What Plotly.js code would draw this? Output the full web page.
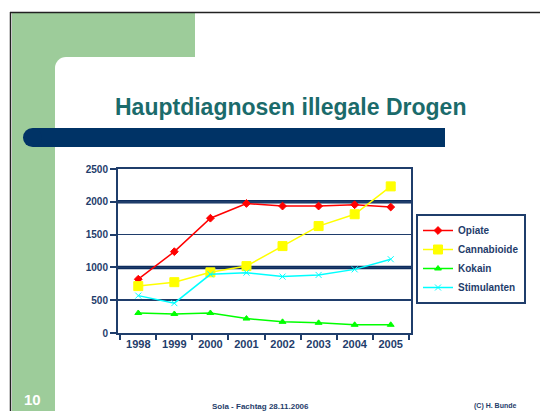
<!DOCTYPE html>
<html>
<head>
<meta charset="utf-8">
<script src="https://cdn.plot.ly/plotly-3.0.1.min.js"></script>
<style>html,body{margin:0;padding:0;background:#fff;}#chart{width:540px;height:411px;}</style>
</head>
<body>
<div id="chart"></div>
<script>
// ---- data ----
const years = ["1998", "1999", "2000", "2001", "2002", "2003", "2004", "2005"];
const opiate = [820, 1240, 1750, 1975, 1935, 1935, 1955, 1920];
const cannabioide = [715, 775, 925, 1020, 1325, 1630, 1810, 2235];
const kokain = [305, 290, 305, 220, 170, 155, 125, 125];
const stimulanten = [570, 455, 895, 920, 860, 885, 970, 1125];
const seriesNames = ["Opiate", "Cannabioide", "Kokain", "Stimulanten"];
const yTicks = [0, 500, 1000, 1500, 2000, 2500];
const thickGrid = [1000, 2000];

// ---- layout helpers (pixel -> paper) ----
const W = 540, H = 411;
const px = v => v / W;
const py = v => 1 - v / H;
const navy = "#1f3d6b";
const green = "#9dcc9a";
const font = "Liberation Sans, Arial, sans-serif";

function trace(y, name, color, symbol, size) {
  return {
    x: years, y: y, name: name, type: "scatter", mode: "lines+markers",
    line: {color: color, width: 1.5},
    marker: {color: color, symbol: symbol, size: size, line: {color: color, width: 1}}
  };
}
const data = [
  trace(opiate, seriesNames[0], "#ff0000", "diamond", 6),
  trace(cannabioide, seriesNames[1], "#ffff00", "square", 9),
  trace(kokain, seriesNames[2], "#00ff00", "triangle-up", 6),
  trace(stimulanten, seriesNames[3], "#00ffff", "x-thin-open", 6)
];

const shapes = [
  // slide decoration
  {type: "rect", xref: "paper", yref: "paper", x0: px(12), x1: px(195), y0: py(57), y1: py(13), fillcolor: green, line: {width: 0}, layer: "below"},
  {type: "rect", xref: "paper", yref: "paper", x0: px(12), x1: px(55), y0: py(411), y1: py(13), fillcolor: green, line: {width: 0}, layer: "below"},
  {type: "rect", xref: "paper", yref: "paper", x0: px(55), x1: px(66), y0: py(68), y1: py(57), fillcolor: green, line: {width: 0}, layer: "below"},
  {type: "circle", xref: "paper", yref: "paper", x0: px(55), x1: px(77), y0: py(79), y1: py(57), fillcolor: "#ffffff", line: {width: 0}, layer: "below"},
  {type: "line", xref: "paper", yref: "paper", x0: px(10.5), x1: px(10.5), y0: py(411), y1: py(12), line: {color: "#222", width: 1.5}},
  {type: "line", xref: "paper", yref: "paper", x0: px(10), x1: px(540), y0: py(12.5), y1: py(12.5), line: {color: "#222", width: 1.5}},
  // blue title bar
  {type: "rect", xref: "paper", yref: "paper", x0: px(33), x1: px(445), y0: py(147), y1: py(128), fillcolor: "#003366", line: {width: 0}},
  {type: "circle", xref: "paper", yref: "paper", x0: px(23), x1: px(42), y0: py(147), y1: py(128), fillcolor: "#003366", line: {width: 0}}
];
thickGrid.forEach(v => shapes.push({
  type: "line", xref: "paper", yref: "y", x0: px(118), x1: px(411), y0: v, y1: v,
  line: {color: "#0d2d5e", width: 3.5}, layer: "below"
}));

const layout = {
  width: W, height: H,
  margin: {l: 0, r: 0, t: 0, b: 0},
  paper_bgcolor: "#ffffff", plot_bgcolor: "rgba(0,0,0,0)",
  showlegend: true,
  font: {family: font, color: navy},
  xaxis: {
    domain: [px(118), px(411)], type: "category",
    showline: true, linecolor: navy, linewidth: 2, mirror: true,
    ticks: "outside", tickson: "boundaries", ticklen: 5, tickcolor: navy, tickwidth: 2,
    showgrid: false, zeroline: false,
    tickfont: {family: font, size: 11, color: navy, weight: "bold"}
  },
  yaxis: {
    domain: [py(333), py(169)], range: [0, 2500],
    tickvals: yTicks, ticks: "outside", ticklen: 6, tickcolor: navy, tickwidth: 2,
    showline: true, linecolor: navy, linewidth: 2, mirror: true,
    showgrid: true, gridcolor: navy, gridwidth: 1.5, zeroline: false,
    tickfont: {family: font, size: 10, color: navy, weight: "bold"}
  },
  legend: {
    x: px(416), y: py(214), xanchor: "left", yanchor: "top",
    bordercolor: navy, borderwidth: 2, bgcolor: "#ffffff",
    font: {family: font, size: 10, color: navy, weight: "bold"},
    itemwidth: 30, tracegroupgap: 0
  },
  shapes: shapes,
  annotations: [
    {text: "Hauptdiagnosen illegale Drogen", xref: "paper", yref: "paper", x: px(290), y: py(107),
     showarrow: false, xanchor: "center", yanchor: "middle",
     font: {family: font, size: 23, color: "#1b6b6b", weight: "bold"}},
    {text: "10", xref: "paper", yref: "paper", x: px(32), y: py(399), showarrow: false,
     xanchor: "center", yanchor: "middle", font: {family: font, size: 15, color: "#ffffff", weight: "bold"}},
    {text: "Sola - Fachtag 28.11.2006", xref: "paper", yref: "paper", x: px(260), y: py(406), showarrow: false,
     xanchor: "center", yanchor: "middle", font: {family: font, size: 8, color: navy, weight: "bold"}},
    {text: "(C) H. Bunde", xref: "paper", yref: "paper", x: px(495), y: py(406), showarrow: false,
     xanchor: "center", yanchor: "middle", font: {family: font, size: 7, color: navy, weight: "bold"}}
  ]
};

Plotly.newPlot("chart", data, layout, {displayModeBar: false, staticPlot: true});
</script>
</body>
</html>
